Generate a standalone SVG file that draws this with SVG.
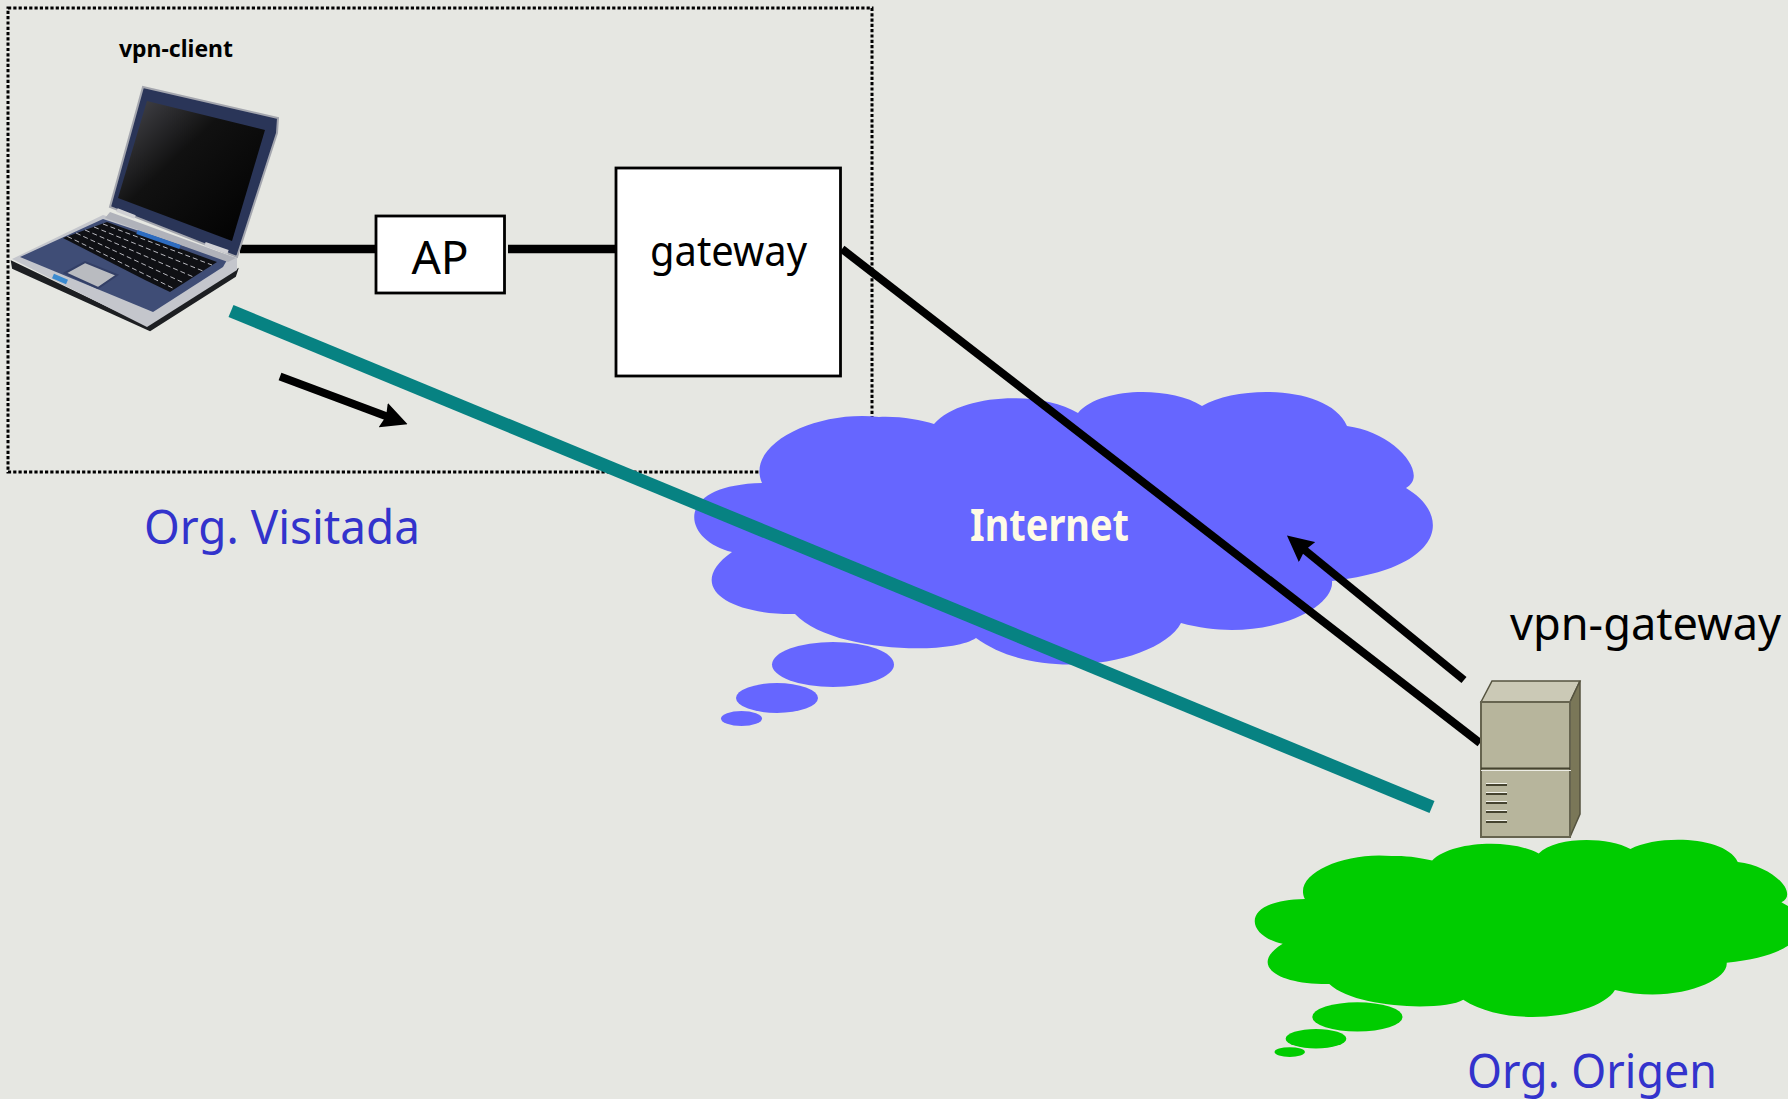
<svg xmlns="http://www.w3.org/2000/svg" width="1788" height="1099" viewBox="0 0 1788 1099">
<style>
.f{font-family:"Noto Sans","DejaVu Sans",sans-serif}
.t{font-size:46px;fill:#000}
.o{font-size:48px;fill:#3333cc}
.box{fill:#fff;stroke:#000;stroke-width:2.800}
.wire{stroke:#000;stroke-width:8.500;fill:none}
.thin{stroke:#000;stroke-width:8;fill:none}
</style>
<defs>
<g id="cloud">
<path d="M934 424C960 394 1040 390 1078 413C1100 387 1170 386 1202 406C1240 384 1330 386 1347 426C1395 432 1430 475 1406 488C1452 515 1446 568 1332 581C1335 610 1260 645 1181 623C1160 663 1040 685 976 638C950 656 830 652 795 614C725 615 685 585 732 552C682 540 672 485 762 483C745 445 815 410 879 417C900 416 920 420 934 424Z"/>
<ellipse cx="833" cy="664.500" rx="61" ry="22.500"/>
<ellipse cx="777" cy="698" rx="41" ry="15"/>
<ellipse cx="741.500" cy="718.500" rx="20.500" ry="7.500"/>
</g>
<linearGradient id="scr" x1="0" y1="0" x2="1" y2="1">
<stop offset="0" stop-color="#4a4a50"/><stop offset=".4" stop-color="#111"/><stop offset="1" stop-color="#000"/>
</linearGradient>
<marker id="ah" viewBox="0 0 26 26" refX="4" refY="13" markerWidth="26" markerHeight="26" markerUnits="userSpaceOnUse" orient="auto"><path d="M0 0L26 13L0 26L3 13Z"/></marker>
</defs>
<rect width="1788" height="1099" fill="#e6e7e2"/>
<rect id="org-visitada-box" x="8" y="8" width="864" height="464" fill="none" stroke="#000" stroke-width="3" stroke-dasharray="3.200 2.100"/>
<g id="internet"><use href="#cloud" fill="#6666ff"/><text class="f" x="970" y="541" font-size="44" font-weight="bold" fill="#fffbe6" textLength="159" lengthAdjust="spacingAndGlyphs">Internet</text></g>
<g id="origen-cloud"><use href="#cloud" fill="#00cc00" transform="translate(741 585) scale(.74 .65)"/></g>
<g id="connectors">
<path class="wire" d="M240 249H376M508 249H616"/>
<path class="thin" d="M842 249L1480 743"/>
<path class="thin" d="M1464 680L1304 549.500" marker-end="url(#ah)"/>
<path class="thin" d="M280 376.500L387 416.500" marker-end="url(#ah)"/>
<path d="M231 311L1432 807" stroke="#078282" stroke-width="13" fill="none"/>
</g>
<g id="laptop">
<path d="M143 87L278 118L277 133L237 257L110 207Z" fill="#2a3558" stroke="#a4a6ae" stroke-width="2"/>
<path d="M147 101L265 130L232 241L118 198Z" fill="url(#scr)"/>
<path d="M117 210L135 217M205 244L228 252" stroke="#d0d0d4" stroke-width="4"/>
<path d="M12 262L147 327L237 270L235 276L150 330L13 268Z" fill="#1d1f22" stroke="#1d1f22" stroke-width="2"/>
<path d="M12 259L103 215L237 258L237 270L147 327Z" fill="#c4c6cc"/>
<path d="M20 257L103 219L227 260L223 267L153 312Z" fill="#3f4d76"/>
<path d="M105 218L110 212L236 258L228 262Z" fill="#b0b2ba"/>
<path d="M63 238L107 222L217 262L170 292L145 280Z" fill="#0f1014"/>
<path d="M67.400 236.400L174.700 289M76 233L184 283M85 230L193.500 277M94 227L203 271M103 224L212 265" stroke="#b8b8be" stroke-width="1" stroke-dasharray="5 3" fill="none"/>
<path d="M137 232L180 247" stroke="#2d6cc0" stroke-width="4"/>
<path d="M53 276L67 282" stroke="#3a8ad0" stroke-width="5"/>
<path d="M65 273L85 262L117 275L98 288Z" fill="#b9bbc0" stroke="#333f66" stroke-width="2"/>
</g>
<g id="ap"><rect class="box" x="376" y="216" width="128.500" height="77"/><text class="f t" x="440" y="274" text-anchor="middle">AP</text></g>
<g id="gateway"><rect class="box" x="616" y="168" width="224.500" height="208"/><text class="f" font-size="42" fill="#000" x="650" y="266" textLength="157" lengthAdjust="spacingAndGlyphs">gateway</text></g>
<g id="vpn-gateway">
<path d="M1481 702L1492 681H1580L1570 702Z" fill="#cbc9b6" stroke="#55533f" stroke-width="1.500"/>
<path d="M1570 702L1580 681V814L1570 837Z" fill="#7a7758" stroke="#55533f" stroke-width="1.500"/>
<rect x="1481" y="702" width="89" height="135" fill="#b7b59c" stroke="#66644f" stroke-width="2"/>
<path d="M1481 768.500H1570" stroke="#45432f" stroke-width="2"/>
<path d="M1481 770.500H1571" stroke="#eeeee6" stroke-width="1"/>
<path d="M1486 785H1507M1486 794H1507M1486 803H1507M1486 812H1507M1486 822H1507" stroke="#45432f" stroke-width="2"/>
<path d="M1486 783.500H1507M1486 792.500H1507M1486 801.500H1507M1486 810.500H1507M1486 820.500H1507" stroke="#f2f2ea" stroke-width="1"/>
<text class="f t" x="1510" y="640" textLength="271" lengthAdjust="spacingAndGlyphs">vpn-gateway</text>
</g>
<text id="vpn-client" class="f" x="119" y="57" font-size="23" font-weight="bold" fill="#000" textLength="114" lengthAdjust="spacingAndGlyphs">vpn-client</text>
<text id="org-visitada" class="f o" x="144" y="544" textLength="276" lengthAdjust="spacingAndGlyphs">Org. Visitada</text>
<text id="org-origen" class="f o" x="1467" y="1088" textLength="250" lengthAdjust="spacingAndGlyphs">Org. Origen</text>
</svg>
